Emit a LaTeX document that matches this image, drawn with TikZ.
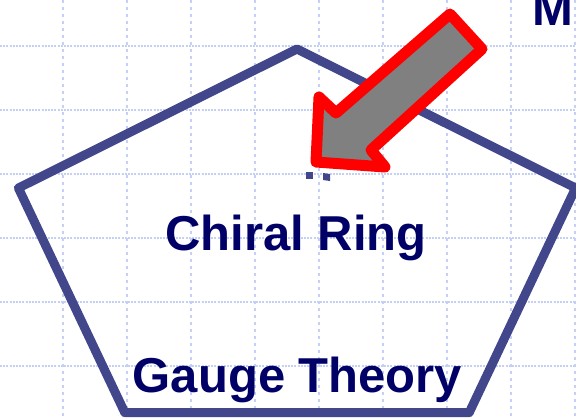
\documentclass[tikz,border=0pt]{standalone}
\usepackage{fontspec}
\setmainfont{Liberation Sans}
\definecolor{gridlav}{RGB}{196,208,248}
\definecolor{pentablue}{RGB}{66,70,138}
\definecolor{labelnavy}{RGB}{0,0,102}
\definecolor{arrowred}{RGB}{255,0,0}
\definecolor{arrowgray}{RGB}{128,128,128}

\begin{document}
\begin{tikzpicture}[
    x=1bp, y=-1bp,
    hgrid/.style   ={gridlav, line width=1.6bp, dash pattern=on 2bp off 1.2bp},
    vgrid/.style   ={gridlav, line width=1.6bp, dash pattern=on 3bp off 4bp},
    penta/.style   ={pentablue, line width=9bp, line join=round},
    bigtext/.style ={text=labelnavy, inner sep=0pt,
                     font=\fontsize{49bp}{56bp}\selectfont\bfseries},
    blockarrow/.style ={draw=arrowred, fill=arrowgray, line width=11bp,
                     line join=round},
  ]

  % ---- frame ----
  \useasboundingbox (0,0) rectangle (576,418);
  \clip (0,0) rectangle (576,418);

  % ---- dotted grid ----
  \foreach \gx in {-1,63,...,575}
    \draw[vgrid] (\gx,0) -- (\gx,418);
  \foreach \gy in {46,110,...,430}
    \draw[hgrid] (0,\gy) -- (576,\gy);

  % ---- pentagon (regular, squashed vertically) ----
  \coordinate (ptop)   at (297,49);
  \coordinate (pright) at (575.6,188);
  \coordinate (pbr)    at (469.2,412.6);
  \coordinate (pbl)    at (124.8,412.6);
  \coordinate (pleft)  at (18.4,188);
  \draw[penta] (ptop) -- (pright) -- (pbr) -- (pbl) -- (pleft) -- cycle;

  % ---- texts ----
  \node[bigtext, anchor=base] (chiral) at (296,250) {Chiral Ring};
  \node[bigtext, anchor=base] (gauge)  at (297.5,392) {Gauge Theory};
  \node[bigtext, anchor=base west] (mcut) at (532,25) {M};

  % ---- marks half hidden under the arrow ----
  \fill[pentablue] (306,172) rectangle (313,179);
  \fill[pentablue] (323,173) -- (330,174) -- (330,181) -- (323,180) -- cycle;

  % ---- block arrow pointing down-left ----
  \draw[blockarrow] (450,14) -- (482,49) -- (371,150) -- (385,167)
    -- (316,162) -- (319,97) -- (336,113) -- cycle;

\end{tikzpicture}
\end{document}
